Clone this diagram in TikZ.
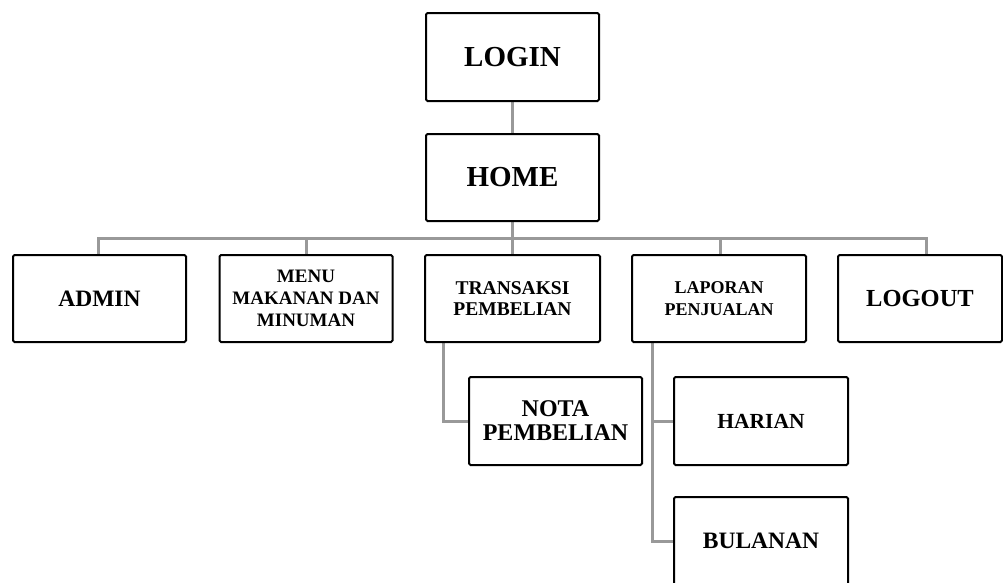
\documentclass[tikz,border=0pt]{standalone}
\usepackage{fontspec}
\setmainfont{Liberation Serif}
\usetikzlibrary{backgrounds}
\tikzset{
  menubox/.style={draw=black, line width=2pt, rounded corners=1.5pt, fill=white,
    minimum width=173pt, minimum height=87pt, align=center, inner sep=0pt},
  conn/.style={draw=black!40, line width=3pt}
}
\begin{document}
\begin{tikzpicture}[x=1pt,y=-1pt]
\useasboundingbox (0,0) rectangle (1003,582);
\clip (0,0) rectangle (1003,582);
\node[menubox, minimum height=88pt, font={\fontsize{29}{33}\selectfont\bfseries}] (login) at (512.5,57) {LOGIN};
\node[menubox, font={\fontsize{29}{33}\selectfont\bfseries}] (home) at (512.5,177.5) {HOME};
\node[menubox, font={\fontsize{23.5}{27}\selectfont\bfseries}] (admin) at (99.5,298.5) {ADMIN};
\node[menubox, font={\fontsize{19}{22}\selectfont\bfseries}] (menu) at (306,298.5) {MENU\\MAKANAN DAN\\MINUMAN};
\node[menubox, minimum width=175pt, font={\fontsize{19.5}{21.7}\selectfont\bfseries}] (trans) at (512.5,298.5) {TRANSAKSI\\PEMBELIAN};
\node[menubox, minimum width=174pt, font={\fontsize{18}{21.7}\selectfont\bfseries}] (lap) at (719,298.5) {LAPORAN\\PENJUALAN};
\node[menubox, minimum width=164pt, font={\fontsize{24.5}{28}\selectfont\bfseries}] (logout) at (920,298.5) {LOGOUT};
\node[menubox, minimum height=88pt, font={\fontsize{24}{24}\selectfont\bfseries}] (nota) at (555.5,421) {NOTA\\PEMBELIAN};
\node[menubox, minimum width=174pt, minimum height=88pt, font={\fontsize{21.5}{25}\selectfont\bfseries}] (harian) at (761,421) {HARIAN};
\node[menubox, minimum width=174pt, minimum height=88pt, font={\fontsize{23.5}{27}\selectfont\bfseries}] (bulanan) at (761,541) {BULANAN};
\coordinate (bus) at (512.5,238);
\begin{scope}[on background layer]
\draw[conn] (login.south) -- (home.south);
\draw[conn] (home.south) -- (trans.north);
\draw[conn] ([xshift=-1.5pt]admin.north) |- (bus) -| ([xshift=6pt]logout.north);
\draw[conn] (menu.north) -- (menu.north |- bus);
\draw[conn] ([xshift=1pt]lap.north) -- ([xshift=1pt]lap.north |- bus);
\draw[conn] ([xshift=-69pt]trans.south) |- (nota.west);
\draw[conn] ([xshift=-67pt]lap.south) |- (harian.west);
\draw[conn] ([xshift=-67pt]lap.south) |- (bulanan.west);
\end{scope}
\end{tikzpicture}
\end{document}
